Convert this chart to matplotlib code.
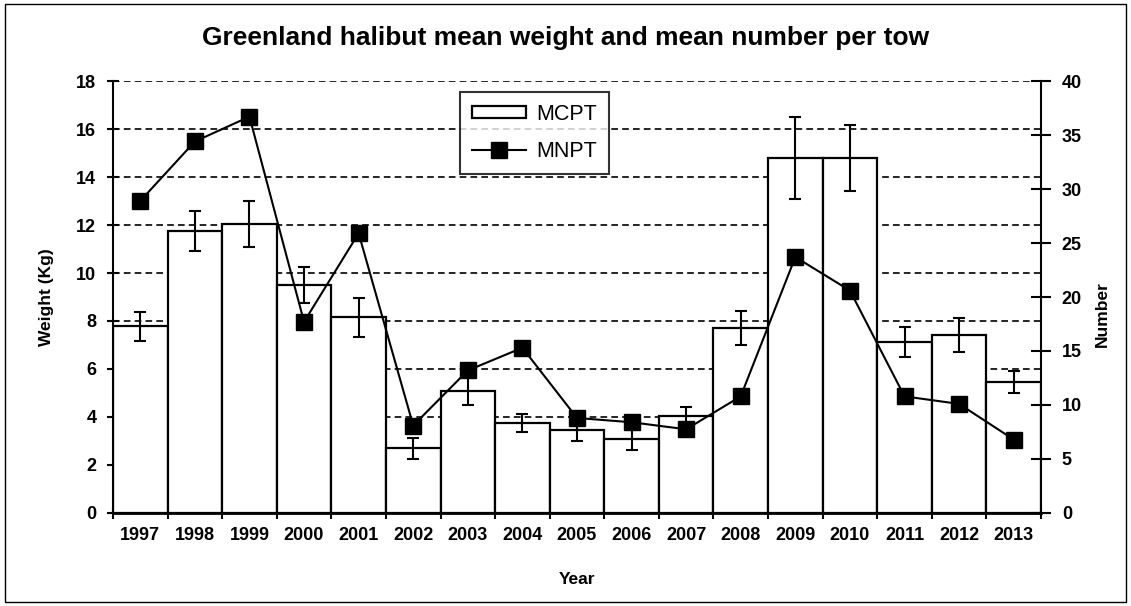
import numpy as np
import matplotlib
matplotlib.use("Agg")
import matplotlib.pyplot as plt

plt.rcParams['font.family'] = ['Liberation Sans', 'DejaVu Sans']

# données
years = ['1997', '1998', '1999', '2000', '2001', '2002', '2003', '2004', '2005',
         '2006', '2007', '2008', '2009', '2010', '2011', '2012', '2013']
mcpt = [7.78, 11.75, 12.05, 9.5, 8.15, 2.69, 5.08, 3.75, 3.46,
        3.07, 4.04, 7.72, 14.8, 14.8, 7.11, 7.42, 5.47]
mcpt_err = [0.6, 0.85, 0.95, 0.75, 0.82, 0.44, 0.58, 0.37, 0.46,
            0.45, 0.37, 0.7, 1.72, 1.38, 0.63, 0.7, 0.45]
mnpt = [28.9, 34.4, 36.7, 17.7, 25.9, 8.1, 13.2, 15.3, 8.8,
        8.4, 7.75, 10.8, 23.7, 20.6, 10.8, 10.1, 6.8]

x = np.arange(len(years))

fig = plt.figure(figsize=(11.31, 6.06), dpi=100)
fig.patches.append(plt.Rectangle((0.004, 0.007), 0.992, 0.986, transform=fig.transFigure,
                                 fill=False, edgecolor='black', linewidth=1.0))
ax = fig.add_axes([0.0999, 0.1535, 0.8205, 0.7128])

# barres MCPT
bars = ax.bar(x, mcpt, width=1.0, facecolor='white', edgecolor='black', linewidth=1.6,
              label='MCPT', zorder=2)
ax.errorbar(x, mcpt, yerr=mcpt_err, fmt='none', ecolor='black', elinewidth=1.5,
            capsize=4.5, capthick=1.5, zorder=3)

ax.set_xlim(-0.5, len(years) - 0.5)
ax.set_ylim(0, 18)
ax.set_yticks(np.arange(0, 19, 2))
ax.yaxis.grid(True, linestyle=(0, (4, 2.5)), color='black', linewidth=1.2)
ax.set_axisbelow(True)

ax.set_xticks(x)
ax.set_xticklabels(years, fontweight='bold', fontsize=13)
ax.set_xticks(np.arange(-0.5, len(years), 1), minor=True)
ax.tick_params(axis='x', which='major', length=0, pad=10)
ax.tick_params(axis='x', which='minor', length=8, width=1.5, direction='inout')
ax.tick_params(axis='y', length=8, width=1.5, direction='inout', labelsize=13, pad=8)
for lab in ax.get_yticklabels():
    lab.set_fontweight('bold')

ax.spines['top'].set_visible(False)
ax.spines['right'].set_visible(False)
ax.spines['left'].set_linewidth(1.5)
ax.spines['bottom'].set_linewidth(2.0)

ax.set_ylabel('Weight (Kg)', fontweight='bold', fontsize=12.5)
ax.yaxis.set_label_coords(-0.064, 0.5)
ax.set_xlabel('Year', fontweight='bold', fontsize=12.5, labelpad=20)

# ligne MNPT sur l'axe de droite
ax2 = ax.twinx()
ln, = ax2.plot(x, mnpt, color='black', linewidth=1.5, marker='s', markersize=11.5,
               label='MNPT', zorder=4)
ax2.set_ylim(0, 40)
ax2.set_yticks(np.arange(0, 41, 5))
ax2.tick_params(axis='y', length=14, width=1.5, direction='inout', labelsize=13, pad=8)
for lab in ax2.get_yticklabels():
    lab.set_fontweight('bold')
ax2.spines['top'].set_visible(False)
ax2.spines['left'].set_visible(False)
ax2.spines['bottom'].set_visible(False)
ax2.spines['right'].set_linewidth(1.5)
ax2.set_ylabel('Number', fontweight='bold', fontsize=12.5)
ax2.yaxis.set_label_coords(1.058, 0.46)

leg = ax2.legend([bars, ln], ['MCPT', 'MNPT'], loc='upper left',
                 bbox_to_anchor=(0.374, 0.9745), borderaxespad=0, fontsize=15.5,
                 frameon=True, fancybox=False, edgecolor='black', handlelength=2.5,
                 handleheight=0.45, borderpad=0.55, labelspacing=0.75, handletextpad=0.5)
leg.get_frame().set_linewidth(1.5)

fig.suptitle('Greenland halibut mean weight and mean number per tow',
             fontweight='bold', fontsize=19, y=0.937, va='center')

fig.savefig('out.png', dpi=100)
